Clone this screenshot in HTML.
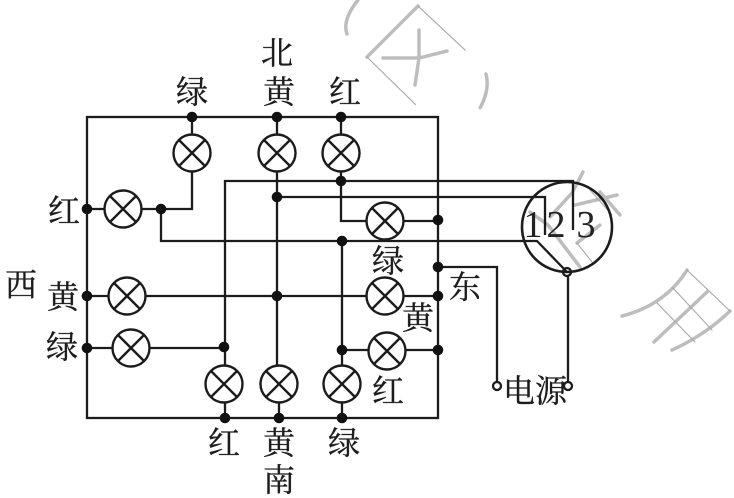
<!DOCTYPE html>
<html><head><meta charset="utf-8"><style>
html,body{margin:0;padding:0;background:#fff;width:734px;height:498px;overflow:hidden}
svg{display:block}
.z{font-family:"Liberation Serif","Noto Serif CJK SC",serif;font-size:32px;fill:#1c1c1c;stroke:#1c1c1c;stroke-width:.35;text-anchor:middle}
.n{font-family:"Liberation Serif",serif;font-size:38px;fill:#222;text-anchor:middle}
</style></head><body>
<svg width="734" height="498" viewBox="0 0 734 498" xmlns="http://www.w3.org/2000/svg">
<g fill="none" stroke="#bdbdbd" stroke-linecap="round">
<g stroke-width="3.5" stroke-dasharray="2 1">
<path d="M367 57L418 6"/><path d="M383 58L419 58L447 51M419 30L419 58L415 85"/>
<path d="M358 0Q342 20 347 34"/><path d="M486 74Q490 90 480 108"/>
<path d="M583 172L572 193L550 217M530 212L548 225L580 267M575 205L617 195M577 243L600 225M600 192L620 215"/>
<path d="M622 316Q665 305 687 270M654 342L707 292M672 350Q705 335 730 311"/>
</g>
<g stroke-width="1.2" stroke="#aaa" stroke-dasharray="2 1">
<path d="M418 6L465 50M367 57L416 105"/>
<path d="M687 270L730 311M657 303L695 342M673 288L712 330"/>
<path d="M590 190L612 215M577 243L592 262"/>
</g>
</g>
<g fill="none" stroke="#1c1c1c" stroke-width="2.3">
<rect x="87" y="117" width="351" height="301"/>
<path d="M192 117V134M192 172V209H142M105 209H87M161 209V241H537L567 272"/>
<path d="M277 117V134M277 172V365M341 117V134M341 172V221H366M404 221H438"/>
<path d="M225 365V181H573V230M277 197H545V235"/>
<path d="M87 296H108M146 296H366M404 296H438"/>
<path d="M87 348H112M150 348H225M342 365V241M342 350H368M406 350H438"/>
<path d="M225 403V418M279 403V418M342 403V418"/>
<path d="M438 267H497V381M568 277V381"/>
<circle cx="567" cy="227" r="45" stroke-width="2.6"/>
<circle cx="567" cy="272" r="4"/>
<circle cx="497" cy="386" r="4"/>
<circle cx="568" cy="386" r="4"/>
</g>
<g fill="#fff" stroke="#1c1c1c" stroke-width="2.4">
<circle cx="192" cy="153" r="18.5"/><path d="M179 140L205 166M205 140L179 166"/>
<circle cx="277" cy="153" r="18.5"/><path d="M264 140L290 166M290 140L264 166"/>
<circle cx="341" cy="153" r="18.5"/><path d="M328 140L354 166M354 140L328 166"/>
<circle cx="123" cy="209" r="18.5"/><path d="M110 196L136 222M136 196L110 222"/>
<circle cx="385" cy="221" r="18.5"/><path d="M372 208L398 234M398 208L372 234"/>
<circle cx="127" cy="296" r="18.5"/><path d="M114 283L140 309M140 283L114 309"/>
<circle cx="385" cy="296" r="18.5"/><path d="M372 283L398 309M398 283L372 309"/>
<circle cx="131" cy="348" r="18.5"/><path d="M118 335L144 361M144 335L118 361"/>
<circle cx="387" cy="351" r="18.5"/><path d="M374 338L400 364M400 338L374 364"/>
<circle cx="224" cy="384" r="18.5"/><path d="M211 371L237 397M237 371L211 397"/>
<circle cx="279" cy="384" r="18.5"/><path d="M266 371L292 397M292 371L266 397"/>
<circle cx="342" cy="384" r="18.5"/><path d="M329 371L355 397M355 371L329 397"/>
</g>
<g fill="#111">
<circle cx="192" cy="117" r="5.3"/><circle cx="277" cy="117" r="5.3"/><circle cx="341" cy="117" r="5.3"/>
<circle cx="87" cy="209" r="5.3"/><circle cx="87" cy="296" r="5.3"/><circle cx="87" cy="348" r="5.3"/>
<circle cx="161" cy="209" r="5.3"/><circle cx="341" cy="181" r="5.3"/><circle cx="277" cy="197" r="5.3"/>
<circle cx="342" cy="241" r="5.3"/><circle cx="438" cy="220" r="5.3"/><circle cx="438" cy="267" r="5.3"/>
<circle cx="438" cy="296" r="5.3"/><circle cx="438" cy="350" r="5.3"/><circle cx="277" cy="296" r="5.3"/>
<circle cx="224" cy="347" r="5.3"/><circle cx="342" cy="350" r="5.3"/>
<circle cx="225" cy="418" r="5.3"/><circle cx="279" cy="418" r="5.3"/><circle cx="342" cy="418" r="5.3"/>
</g>
<text class="z" x="192" y="103">绿</text>
<text class="z" x="277" y="64">北</text>
<text class="z" x="279" y="103">黄</text>
<text class="z" x="345" y="103">红</text>
<text class="z" x="64" y="222">红</text>
<text class="z" x="63" y="308">黄</text>
<text class="z" x="62" y="358">绿</text>
<text class="z" x="21" y="296">西</text>
<text class="z" x="388" y="272">绿</text>
<text class="z" x="465" y="298">东</text>
<text class="z" x="418" y="329">黄</text>
<text class="z" x="388" y="402">红</text>
<text class="z" x="224" y="454">红</text>
<text class="z" x="279" y="454">黄</text>
<text class="z" x="279" y="491">南</text>
<text class="z" x="344" y="454">绿</text>
<text class="z" x="519" y="402">电</text>
<text class="z" x="551" y="402">源</text>
<text class="n" x="533" y="237">1</text>
<text class="n" x="556" y="237">2</text>
<text class="n" x="586" y="237">3</text>
</svg>
</body></html>
